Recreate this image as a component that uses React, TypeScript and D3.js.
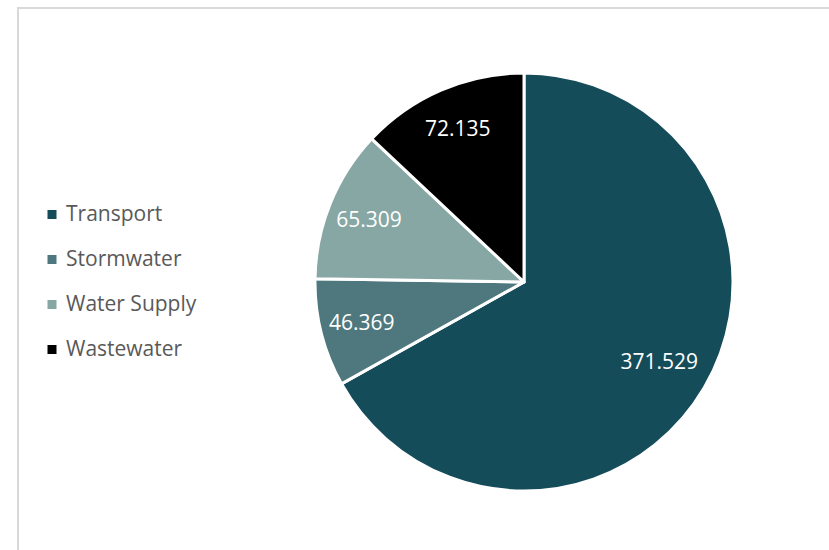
import React from "react";
import * as d3 from "d3";

const categories = ["Transport", "Stormwater", "Water Supply", "Wastewater"];
const values = [371.529, 46.369, 65.309, 72.135];
const labels = ["371.529", "46.369", "65.309", "72.135"];
const colors = ["#154C5A", "#4E787D", "#87A7A4", "#000000"];

const W = 829;
const H = 550;
const cx = 524;
const cy = 282;
const R = 209;
const FONT = "'Open Sans', 'Noto Sans', sans-serif";

export default function App() {
  const data = categories.map((c, i) => ({ name: c, value: values[i], label: labels[i], color: colors[i] }));
  const pie = d3.pie<any>().sort(null).value((d) => d.value);
  const arcs = pie(data);
  const arc = d3.arc<any>().innerRadius(0).outerRadius(R);
  const labelArc = (d: any) => {
    const r = d.index === 0 ? R * 0.75 : R * 0.8;
    return d3.arc<any>().innerRadius(r).outerRadius(r).centroid(d);
  };
  const legendY = d3.scaleLinear().domain([0, 1]).range([221, 266]);

  return (
    <svg width={W} height={H} style={{ position: "absolute", left: 0, top: 0, background: "#fff" }}>
      <rect x={18} y={8} width={W} height={H} fill="#fff" stroke="#d9d9d9" strokeWidth={2} />
      <g transform={`translate(${cx},${cy})`}>
        {arcs.map((a, i) => (
          <path key={i} d={arc(a) as string} fill={a.data.color} stroke="#fff" strokeWidth={3} strokeLinejoin="round" />
        ))}
        {arcs.map((a, i) => {
          const [x, y] = labelArc(a);
          return (
            <text key={"l" + i} x={x} y={y} dy="0.35em" textAnchor="middle" fill="#fff" fontFamily={FONT} fontSize={21}>
              {a.data.label}
            </text>
          );
        })}
      </g>
      <g>
        {data.map((d, i) => (
          <g key={d.name}>
            <rect x={47.5} y={legendY(i) - 11} width={9} height={9} fill={d.color} />
            <text x={66} y={legendY(i)} fill="#595959" fontFamily={FONT} fontSize={21}>
              {d.name}
            </text>
          </g>
        ))}
      </g>
    </svg>
  );
}
